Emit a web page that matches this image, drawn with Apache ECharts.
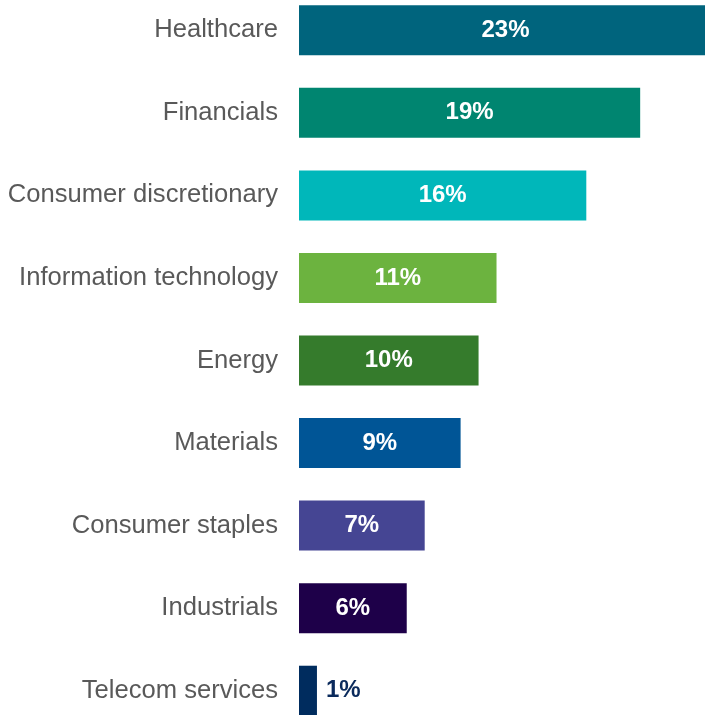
<!DOCTYPE html>
<html><head><meta charset="utf-8">
<script src="https://cdn.jsdelivr.net/npm/echarts@6/dist/echarts.min.js"></script>
<style>html,body{margin:0;padding:0;background:#fff;overflow:hidden}#c{width:712px;height:743px;position:absolute;left:0;top:-11px}</style>
</head><body><div id="c"></div>
<script>
const categories = ["Healthcare","Financials","Consumer discretionary","Information technology","Energy","Materials","Consumer staples","Industrials","Telecom services"];
const values = [23,19,16,11,10,9,7,6,1];
const colors = ["#00647D","#008570","#00B7BA","#6CB33F","#357B2C","#005596","#454593","#1E0049","#002C5E"];

const FONT = '"Liberation Sans",Arial,sans-serif';
const chart = echarts.init(document.getElementById('c'));
const data = values.map((v,i)=>{
  const small = v < 3;
  return {
    value: v,
    itemStyle: {color: colors[i]},
    label: small ? {position:'right', color:'#0A2A5C', distance:9} : {position:'inside', color:'#fff'}
  };
});
chart.setOption({
  animation:false,
  grid:{left:299, right:0, top:0, bottom:0, containLabel:false},
  xAxis:{type:'value', min:0, max:23, show:false},
  yAxis:{type:'category', data:categories, inverse:true,
    axisLine:{show:false}, axisTick:{show:false},
    axisLabel:{margin:21, color:'#595959', fontSize:25.6, fontFamily:FONT, padding:[3,0,0,0]}},
  series:[{type:'bar', data:data, barWidth:50, clip:true,
    label:{show:true, formatter:'{c}%', fontSize:24, fontWeight:'bold', fontFamily:FONT}}]
});
</script></body></html>
